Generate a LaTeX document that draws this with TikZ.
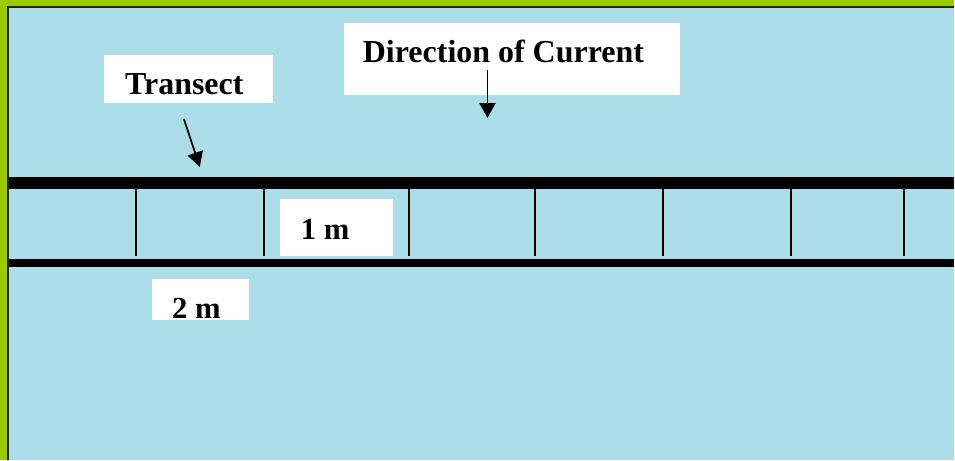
\documentclass[tikz,border=0pt]{standalone}
\usepackage{fontspec}
\setmainfont{Liberation Serif}
\usetikzlibrary{arrows.meta}
\definecolor{framegreen}{RGB}{153,204,0}
\definecolor{water}{RGB}{172,222,234}
\definecolor{frameline}{RGB}{30,40,20}
\begin{document}
\begin{tikzpicture}[x=0.75pt,y=-0.75pt,
  lbl/.style={font=\bfseries\fontsize{24}{28}\selectfont, inner sep=0pt, anchor=base west},
  smalllbl/.style={font=\bfseries\fontsize{23}{27}\selectfont, inner sep=0pt, anchor=base west},
  whitebox/.style={fill=white},
  arr/.style={line width=1.3pt, -{Triangle[width=12pt,length=11pt]}},
  band/.style={line width=#1, black},
  tick/.style={line width=1.5pt, black}
]
% frame and background
\fill[framegreen] (0,0) rectangle (955,460);
\fill[water] (8,7) rectangle (955,460);
\draw[frameline, line width=1.5pt] (955,7) -- (8,7) -- (8,460);
\useasboundingbox (0,0) rectangle (955,460);

% transect bands
\draw[band=9pt] (9,183) -- (955,183);
\draw[band=6pt] (9,263) -- (955,263);
\foreach \x in {136,264,409,536,664,792,905}
  \draw[tick] (\x,189) -- (\x,256);

% label boxes
\fill[whitebox] (104,55) rectangle (273,103);
\fill[whitebox] (344,23) rectangle (681,95);
\fill[whitebox] (280,199) rectangle (393,256);
\fill[whitebox] (152,279) rectangle (249,320);

% texts
\node[lbl] (transect) at (125,95) {Transect};
\node[lbl] (direction) at (363,63) {Direction of Current};
\node[smalllbl] (onem) at (301,240) {1 m};
\node[smalllbl] (twom) at (172,319) {2 m};

% arrows
\coordinate (ta) at (184,119);
\coordinate (tb) at (200,167);
\coordinate (da) at (488,70);
\coordinate (db) at (488,118);
\draw[arr] (ta) -- (tb);
\draw[arr] (da) -- (db);
\end{tikzpicture}
\end{document}
